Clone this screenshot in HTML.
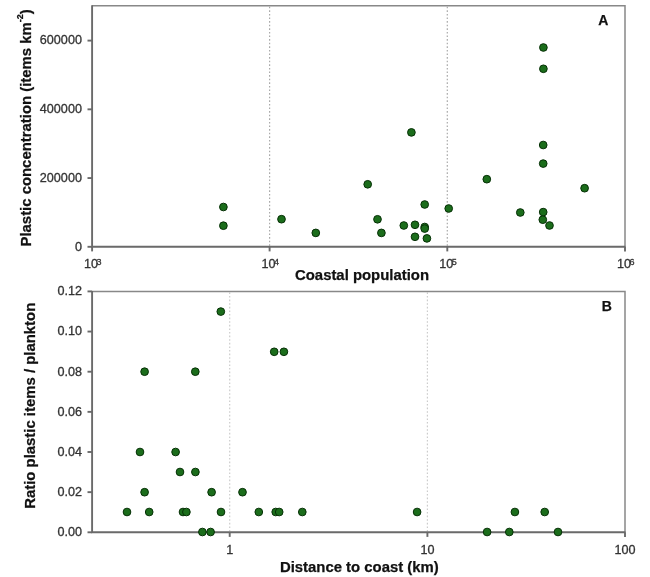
<!DOCTYPE html><html><head><meta charset="utf-8"><style>html,body{margin:0;padding:0;background:#fff;}svg{display:block;will-change:transform;}text{font-family:"Liberation Sans",sans-serif;}</style></head><body>
<svg width="650" height="577" viewBox="0 0 650 577">
<rect width="650" height="577" fill="#fff"/>
<line x1="269.6" y1="6.7" x2="269.6" y2="245.8" stroke="#aaaaaa" stroke-width="1.2" stroke-dasharray="1.6 2.0"/>
<line x1="447.3" y1="6.7" x2="447.3" y2="245.8" stroke="#aaaaaa" stroke-width="1.2" stroke-dasharray="1.6 2.0"/>
<polyline points="92.1,5.7 625.0,5.7 625.0,246.8" fill="none" stroke="#888888" stroke-width="1.5"/>
<polyline points="92.1,5.2 92.1,246.8 625.5,246.8" fill="none" stroke="#6a6a6a" stroke-width="1.9"/>
<line x1="87.5" y1="246.8" x2="92.1" y2="246.8" stroke="#6a6a6a" stroke-width="1.9"/>
<text x="81.9" y="250.60000000000002" text-anchor="end" font-size="12.6" fill="#333" stroke="#333" stroke-width="0.3">0</text>
<line x1="87.5" y1="178.06666666666666" x2="92.1" y2="178.06666666666666" stroke="#6a6a6a" stroke-width="1.9"/>
<text x="81.9" y="181.86666666666667" text-anchor="end" font-size="12.6" fill="#333" stroke="#333" stroke-width="0.3">200000</text>
<line x1="87.5" y1="109.33333333333334" x2="92.1" y2="109.33333333333334" stroke="#6a6a6a" stroke-width="1.9"/>
<text x="81.9" y="113.13333333333334" text-anchor="end" font-size="12.6" fill="#333" stroke="#333" stroke-width="0.3">400000</text>
<line x1="87.5" y1="40.60000000000002" x2="92.1" y2="40.60000000000002" stroke="#6a6a6a" stroke-width="1.9"/>
<text x="81.9" y="44.40000000000002" text-anchor="end" font-size="12.6" fill="#333" stroke="#333" stroke-width="0.3">600000</text>
<line x1="92.1" y1="246.8" x2="92.1" y2="251.4" stroke="#6a6a6a" stroke-width="1.9"/>
<text x="84.1" y="267.8" font-size="12.6" fill="#333" stroke="#333" stroke-width="0.3">10<tspan font-size="9" dx="-1.5" dy="-2.9">3</tspan></text>
<line x1="269.6" y1="246.8" x2="269.6" y2="251.4" stroke="#6a6a6a" stroke-width="1.9"/>
<text x="261.6" y="267.8" font-size="12.6" fill="#333" stroke="#333" stroke-width="0.3">10<tspan font-size="9" dx="-1.5" dy="-2.9">4</tspan></text>
<line x1="447.3" y1="246.8" x2="447.3" y2="251.4" stroke="#6a6a6a" stroke-width="1.9"/>
<text x="439.3" y="267.8" font-size="12.6" fill="#333" stroke="#333" stroke-width="0.3">10<tspan font-size="9" dx="-1.5" dy="-2.9">5</tspan></text>
<line x1="625.0" y1="246.8" x2="625.0" y2="251.4" stroke="#6a6a6a" stroke-width="1.9"/>
<text x="617.0" y="267.8" font-size="12.6" fill="#333" stroke="#333" stroke-width="0.3">10<tspan font-size="9" dx="-1.5" dy="-2.9">6</tspan></text>
<circle cx="223.4" cy="207.0" r="3.85" fill="#1b6d1b" stroke="#063006" stroke-width="1.0"/>
<circle cx="223.4" cy="225.7" r="3.85" fill="#1b6d1b" stroke="#063006" stroke-width="1.0"/>
<circle cx="281.5" cy="219.2" r="3.85" fill="#1b6d1b" stroke="#063006" stroke-width="1.0"/>
<circle cx="315.8" cy="232.9" r="3.85" fill="#1b6d1b" stroke="#063006" stroke-width="1.0"/>
<circle cx="367.7" cy="184.3" r="3.85" fill="#1b6d1b" stroke="#063006" stroke-width="1.0"/>
<circle cx="377.5" cy="219.3" r="3.85" fill="#1b6d1b" stroke="#063006" stroke-width="1.0"/>
<circle cx="381.4" cy="232.9" r="3.85" fill="#1b6d1b" stroke="#063006" stroke-width="1.0"/>
<circle cx="403.8" cy="225.5" r="3.85" fill="#1b6d1b" stroke="#063006" stroke-width="1.0"/>
<circle cx="411.4" cy="132.4" r="3.85" fill="#1b6d1b" stroke="#063006" stroke-width="1.0"/>
<circle cx="415" cy="224.8" r="3.85" fill="#1b6d1b" stroke="#063006" stroke-width="1.0"/>
<circle cx="415" cy="236.8" r="3.85" fill="#1b6d1b" stroke="#063006" stroke-width="1.0"/>
<circle cx="424.7" cy="204.5" r="3.85" fill="#1b6d1b" stroke="#063006" stroke-width="1.0"/>
<circle cx="424.7" cy="227.0" r="3.85" fill="#1b6d1b" stroke="#063006" stroke-width="1.0"/>
<circle cx="424.7" cy="228.6" r="3.85" fill="#1b6d1b" stroke="#063006" stroke-width="1.0"/>
<circle cx="426.9" cy="238.4" r="3.85" fill="#1b6d1b" stroke="#063006" stroke-width="1.0"/>
<circle cx="448.7" cy="208.5" r="3.85" fill="#1b6d1b" stroke="#063006" stroke-width="1.0"/>
<circle cx="486.8" cy="179.2" r="3.85" fill="#1b6d1b" stroke="#063006" stroke-width="1.0"/>
<circle cx="520.3" cy="212.5" r="3.85" fill="#1b6d1b" stroke="#063006" stroke-width="1.0"/>
<circle cx="543.4" cy="47.5" r="3.85" fill="#1b6d1b" stroke="#063006" stroke-width="1.0"/>
<circle cx="543.4" cy="68.8" r="3.85" fill="#1b6d1b" stroke="#063006" stroke-width="1.0"/>
<circle cx="543.2" cy="145" r="3.85" fill="#1b6d1b" stroke="#063006" stroke-width="1.0"/>
<circle cx="543.2" cy="163.6" r="3.85" fill="#1b6d1b" stroke="#063006" stroke-width="1.0"/>
<circle cx="543.2" cy="212.1" r="3.85" fill="#1b6d1b" stroke="#063006" stroke-width="1.0"/>
<circle cx="542.8" cy="219.7" r="3.85" fill="#1b6d1b" stroke="#063006" stroke-width="1.0"/>
<circle cx="549.5" cy="225.5" r="3.85" fill="#1b6d1b" stroke="#063006" stroke-width="1.0"/>
<circle cx="584.6" cy="188.2" r="3.85" fill="#1b6d1b" stroke="#063006" stroke-width="1.0"/>
<text x="598.3" y="24.8" font-size="14" font-weight="bold" fill="#111" stroke="#111" stroke-width="0.25">A</text>
<line x1="229.7" y1="292.4" x2="229.7" y2="531.3" stroke="#cccccc" stroke-width="1.2" stroke-dasharray="1.6 2.0"/>
<line x1="427.4" y1="292.4" x2="427.4" y2="531.3" stroke="#cccccc" stroke-width="1.2" stroke-dasharray="1.6 2.0"/>
<polyline points="92.1,291.4 625.0,291.4 625.0,532.3" fill="none" stroke="#888888" stroke-width="1.5"/>
<polyline points="92.1,290.9 92.1,532.3 625.5,532.3" fill="none" stroke="#6a6a6a" stroke-width="1.9"/>
<line x1="87.5" y1="532.3" x2="92.1" y2="532.3" stroke="#6a6a6a" stroke-width="1.9"/>
<text x="81.9" y="536.0999999999999" text-anchor="end" font-size="12.6" fill="#333" stroke="#333" stroke-width="0.3">0.00</text>
<line x1="87.5" y1="492.15" x2="92.1" y2="492.15" stroke="#6a6a6a" stroke-width="1.9"/>
<text x="81.9" y="495.95" text-anchor="end" font-size="12.6" fill="#333" stroke="#333" stroke-width="0.3">0.02</text>
<line x1="87.5" y1="451.99999999999994" x2="92.1" y2="451.99999999999994" stroke="#6a6a6a" stroke-width="1.9"/>
<text x="81.9" y="455.79999999999995" text-anchor="end" font-size="12.6" fill="#333" stroke="#333" stroke-width="0.3">0.04</text>
<line x1="87.5" y1="411.84999999999997" x2="92.1" y2="411.84999999999997" stroke="#6a6a6a" stroke-width="1.9"/>
<text x="81.9" y="415.65" text-anchor="end" font-size="12.6" fill="#333" stroke="#333" stroke-width="0.3">0.06</text>
<line x1="87.5" y1="371.69999999999993" x2="92.1" y2="371.69999999999993" stroke="#6a6a6a" stroke-width="1.9"/>
<text x="81.9" y="375.49999999999994" text-anchor="end" font-size="12.6" fill="#333" stroke="#333" stroke-width="0.3">0.08</text>
<line x1="87.5" y1="331.54999999999995" x2="92.1" y2="331.54999999999995" stroke="#6a6a6a" stroke-width="1.9"/>
<text x="81.9" y="335.34999999999997" text-anchor="end" font-size="12.6" fill="#333" stroke="#333" stroke-width="0.3">0.10</text>
<line x1="87.5" y1="291.4" x2="92.1" y2="291.4" stroke="#6a6a6a" stroke-width="1.9"/>
<text x="81.9" y="295.2" text-anchor="end" font-size="12.6" fill="#333" stroke="#333" stroke-width="0.3">0.12</text>
<line x1="229.7" y1="532.3" x2="229.7" y2="536.9" stroke="#6a6a6a" stroke-width="1.9"/>
<text x="229.7" y="554.0999999999999" text-anchor="middle" font-size="12.6" fill="#333" stroke="#333" stroke-width="0.3">1</text>
<line x1="427.4" y1="532.3" x2="427.4" y2="536.9" stroke="#6a6a6a" stroke-width="1.9"/>
<text x="427.4" y="554.0999999999999" text-anchor="middle" font-size="12.6" fill="#333" stroke="#333" stroke-width="0.3">10</text>
<line x1="625.0" y1="532.3" x2="625.0" y2="536.9" stroke="#6a6a6a" stroke-width="1.9"/>
<text x="625.0" y="554.0999999999999" text-anchor="middle" font-size="12.6" fill="#333" stroke="#333" stroke-width="0.3">100</text>
<circle cx="220.8" cy="311.6" r="3.85" fill="#1b6d1b" stroke="#063006" stroke-width="1.0"/>
<circle cx="274.2" cy="351.8" r="3.85" fill="#1b6d1b" stroke="#063006" stroke-width="1.0"/>
<circle cx="283.9" cy="351.8" r="3.85" fill="#1b6d1b" stroke="#063006" stroke-width="1.0"/>
<circle cx="144.6" cy="371.7" r="3.85" fill="#1b6d1b" stroke="#063006" stroke-width="1.0"/>
<circle cx="195.3" cy="371.7" r="3.85" fill="#1b6d1b" stroke="#063006" stroke-width="1.0"/>
<circle cx="140" cy="452" r="3.85" fill="#1b6d1b" stroke="#063006" stroke-width="1.0"/>
<circle cx="175.6" cy="452" r="3.85" fill="#1b6d1b" stroke="#063006" stroke-width="1.0"/>
<circle cx="180" cy="472" r="3.85" fill="#1b6d1b" stroke="#063006" stroke-width="1.0"/>
<circle cx="195.4" cy="472" r="3.85" fill="#1b6d1b" stroke="#063006" stroke-width="1.0"/>
<circle cx="144.6" cy="492.2" r="3.85" fill="#1b6d1b" stroke="#063006" stroke-width="1.0"/>
<circle cx="211.6" cy="492.2" r="3.85" fill="#1b6d1b" stroke="#063006" stroke-width="1.0"/>
<circle cx="242.5" cy="492.2" r="3.85" fill="#1b6d1b" stroke="#063006" stroke-width="1.0"/>
<circle cx="127" cy="512" r="3.85" fill="#1b6d1b" stroke="#063006" stroke-width="1.0"/>
<circle cx="149.2" cy="512" r="3.85" fill="#1b6d1b" stroke="#063006" stroke-width="1.0"/>
<circle cx="183" cy="512" r="3.85" fill="#1b6d1b" stroke="#063006" stroke-width="1.0"/>
<circle cx="186.4" cy="512" r="3.85" fill="#1b6d1b" stroke="#063006" stroke-width="1.0"/>
<circle cx="221" cy="512" r="3.85" fill="#1b6d1b" stroke="#063006" stroke-width="1.0"/>
<circle cx="258.8" cy="512" r="3.85" fill="#1b6d1b" stroke="#063006" stroke-width="1.0"/>
<circle cx="275.7" cy="512" r="3.85" fill="#1b6d1b" stroke="#063006" stroke-width="1.0"/>
<circle cx="279.2" cy="512" r="3.85" fill="#1b6d1b" stroke="#063006" stroke-width="1.0"/>
<circle cx="302.3" cy="512" r="3.85" fill="#1b6d1b" stroke="#063006" stroke-width="1.0"/>
<circle cx="417.1" cy="512" r="3.85" fill="#1b6d1b" stroke="#063006" stroke-width="1.0"/>
<circle cx="514.9" cy="512" r="3.85" fill="#1b6d1b" stroke="#063006" stroke-width="1.0"/>
<circle cx="544.7" cy="512" r="3.85" fill="#1b6d1b" stroke="#063006" stroke-width="1.0"/>
<circle cx="202.4" cy="532" r="3.85" fill="#1b6d1b" stroke="#063006" stroke-width="1.0"/>
<circle cx="210.6" cy="532" r="3.85" fill="#1b6d1b" stroke="#063006" stroke-width="1.0"/>
<circle cx="487.1" cy="532" r="3.85" fill="#1b6d1b" stroke="#063006" stroke-width="1.0"/>
<circle cx="509.3" cy="532" r="3.85" fill="#1b6d1b" stroke="#063006" stroke-width="1.0"/>
<circle cx="558.0" cy="532" r="3.85" fill="#1b6d1b" stroke="#063006" stroke-width="1.0"/>
<text x="601.8" y="311.0" font-size="14" font-weight="bold" fill="#111" stroke="#111" stroke-width="0.25">B</text>
<text x="295" y="279.7" font-size="14.9" font-weight="bold" fill="#111" stroke="#111" stroke-width="0.25">Coastal population</text>
<text x="279.9" y="572" font-size="14.9" font-weight="bold" fill="#111" stroke="#111" stroke-width="0.25">Distance to coast (km)</text>
<text transform="translate(30.9,246.5) rotate(-90)" font-size="14.9" font-weight="bold" fill="#111" stroke="#111" stroke-width="0.25">Plastic concentration (items km<tspan font-size="9" dy="-8">-2</tspan><tspan dy="8">)</tspan></text>
<text transform="translate(34.9,508.8) rotate(-90)" font-size="14.9" font-weight="bold" fill="#111" stroke="#111" stroke-width="0.25">Ratio plastic items / plankton</text>
</svg></body></html>
